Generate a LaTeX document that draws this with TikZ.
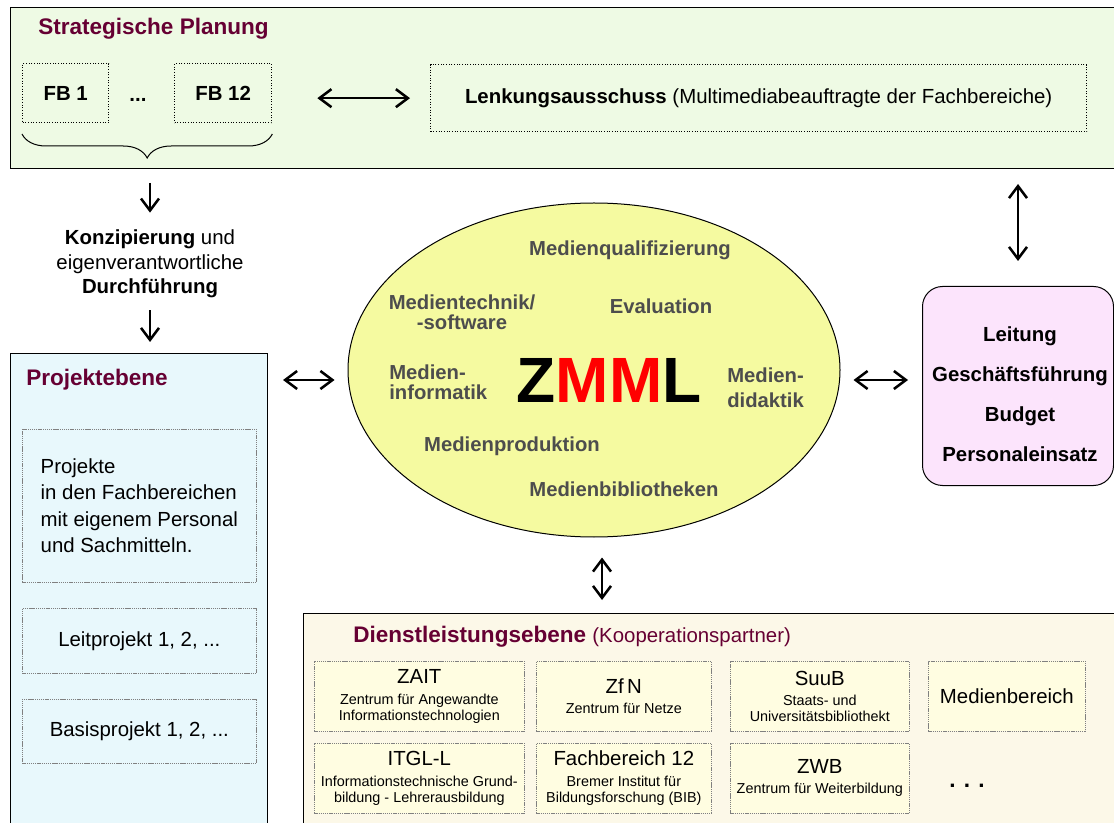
\documentclass[tikz,border=0pt]{standalone}
\usepackage{fontspec}
\setmainfont{Liberation Sans}
\usetikzlibrary{arrows.meta,shapes.geometric,decorations.pathreplacing}

\definecolor{planfill}{RGB}{238,250,228}
\definecolor{projfill}{RGB}{232,248,252}
\definecolor{leitfill}{RGB}{252,228,252}
\definecolor{dienstfill}{RGB}{252,248,232}
\definecolor{partfill}{RGB}{255,253,225}
\definecolor{zmmlfill}{RGB}{245,250,160}
\definecolor{titlecol}{RGB}{102,0,51}
\definecolor{medcol}{RGB}{77,77,77}

\tikzset{
  lvlbox/.style={draw=black, line width=0.75pt, anchor=north west, inner sep=0pt},
  fbbox/.style={draw=black, line width=1pt, dash pattern=on 0.8pt off 1.2pt, anchor=north west, font=\bfseries\fontsize{15.3}{18}\selectfont},
  projbox/.style={draw=gray, line width=0.5pt, dash pattern=on 1pt off 0.6pt, fill=projfill, anchor=north west, minimum width=175.5pt, font=\fontsize{15.3}{19.7}\selectfont},
  partbox/.style={draw=gray, line width=0.5pt, dash pattern=on 1pt off 0.6pt, fill=partfill, anchor=north west, minimum height=52.5pt, align=center, font=\fontsize{10.8}{12}\selectfont},
  leveltitle/.style={anchor=base west, inner sep=0pt, text=titlecol, font=\bfseries\fontsize{16.9}{20}\selectfont},
  medtext/.style={text=medcol, font=\bfseries\fontsize{15.2}{15}\selectfont, align=center, inner sep=0pt},
  arr/.style={line width=1.9pt, -{Straight Barb[length=9pt,width=13.5pt]}},
  dblarr/.style={line width=1.9pt, {Straight Barb[length=9pt,width=13.5pt]}-{Straight Barb[length=9pt,width=13.5pt]}},
}

\begin{document}
\begin{tikzpicture}[x=0.75pt,y=0.75pt,yscale=-1,xscale=1]
\useasboundingbox (0,0) rectangle (1114,823);

%Shape: Rectangle
\node [lvlbox, fill=planfill, minimum width=832.5pt, minimum height=120.75pt] (strat) at (10,7) {};
% Text Node
\node [leveltitle] (strattitle) at (38,35) {Strategische Planung};
% Text Node
\node [fbbox, minimum width=64.5pt, minimum height=44.25pt] (fb1) at (22,63) {FB 1};
% Text Node
\node [anchor=base, inner sep=0pt, font=\bfseries\fontsize{15.3}{18}\selectfont] (fbdots) at (138,102) {...};
% Text Node
\node [fbbox, minimum width=72.75pt, minimum height=44.25pt] (fb12) at (174,63) {FB 12};
% Text Node
\node [fbbox, font=\fontsize{15.3}{18}\selectfont, minimum width=492pt, minimum height=50.25pt] (lenk) at (430,64) {\textbf{Lenkungsausschuss} (Multimediabeauftragte der Fachbereiche)};
%Curve Lines
\draw [line width=0.75pt, decorate, decoration={brace, mirror, amplitude=18pt}] ([yshift=8pt]fb1.south west) -- ([yshift=8pt]fb12.south east);
%Straight Lines
\draw [dblarr, shorten <=33.75pt, shorten >=15pt] (fb12.east |- lenk.west) -- (lenk.west);

% Text Node
\node [align=center, inner sep=0pt, font=\fontsize{15.3}{18.4}\selectfont] (konz) at (150,264) {\textbf{Konzipierung} und\\eigenverantwortliche\\\textbf{Durchführung}};
%Straight Lines
\draw [arr, shorten <=10.5pt, shorten >=12.75pt] (konz.north |- strat.south) -- (konz.north);

%Shape: Rectangle
\node [lvlbox, fill=projfill, minimum width=192.75pt, minimum height=360pt] (proj) at (10,353) {};
%Straight Lines
\draw [arr, shorten <=8.8pt, shorten >=8.25pt] (konz.south) -- (konz.south |- proj.north);
% Text Node
\node [leveltitle] (projtitle) at (26,386) {Projektebene};
% Text Node
\node [projbox, align=left, minimum height=114.75pt] (projfb) at (22,429) {Projekte\\in den Fachbereichen\\mit eigenem Personal\\und Sachmitteln.};
% Text Node
\node [projbox, minimum height=48.75pt] (leitproj) at (22,608) {Leitprojekt 1, 2, ...};
% Text Node
\node [projbox, minimum height=48pt] (basisproj) at (22,699) {Basisprojekt 1, 2, ...};

%Shape: Ellipse
\node [ellipse, draw=black, line width=0.75pt, fill=zmmlfill, minimum width=369pt, minimum height=250.5pt, inner sep=0pt] (zmml) at (594,370) {};
% Text Node
\node [anchor=base, inner sep=0pt, font=\bfseries\fontsize{48}{48}\selectfont] (zmmltext) at (609,403) {Z\textcolor{red}{MM}L};
% Text Node
\node [medtext, anchor=base] (mqual) at (630,256) {Medienqualifizierung};
% Text Node
\node [medtext, anchor=base] (meval) at (661,314) {Evaluation};
% Text Node
\node [medtext] (mtech) at (462,312) {Medientechnik/\\-software};
% Text Node
\node [medtext, align=left, anchor=west] (minf) at (389,382.5) {Medien-\\informatik};
% Text Node
\node [medtext, align=left, anchor=west] (mdid) at (727,388) {Medien-\\[3.75pt]didaktik};
% Text Node
\node [medtext, anchor=base] (mprod) at (512,451) {Medienproduktion};
% Text Node
\node [medtext, anchor=base] (mbib) at (624,496) {Medienbibliotheken};
%Straight Lines
\draw [dblarr, shorten <=11.25pt, shorten >=9.75pt] ([yshift=7.5pt]zmml.west -| proj.east) -- ([yshift=7.5pt]zmml.west);

%Rounded Rect
\node [lvlbox, fill=leitfill, rounded corners=15pt, minimum width=143.25pt, minimum height=149.25pt] (leit) at (922,286) {};
% Text Node
\node [align=center, inner sep=0pt, font=\bfseries\fontsize{15.3}{30}\selectfont] (leittext) at (1020,394) {Leitung\\Geschäftsführung\\Budget\\Personaleinsatz};
%Straight Lines
\draw [dblarr, shorten <=9.75pt, shorten >=10.5pt] ([yshift=7.5pt]zmml.east) -- ([yshift=7.5pt]zmml.east -| leit.west);
%Straight Lines
\draw [dblarr, shorten <=11.25pt, shorten >=18.75pt] (leit.north |- strat.south) -- (leit.north);

%Shape: Rectangle
\node [lvlbox, fill=dienstfill, minimum width=612.75pt, minimum height=187.5pt] (dienst) at (303,613) {};
%Straight Lines
\draw [dblarr, shorten <=15pt, shorten >=9.75pt] ([xshift=6pt]zmml.south) -- ([xshift=6pt]zmml.south |- dienst.north);
% Text Node
\node [leveltitle] (diensttitle) at (353,642) {Dienstleistungsebene {\mdseries\fontsize{15.3}{18}\selectfont (Kooperationspartner)}};
% Text Node
\node [partbox, minimum width=157.5pt] (zait) at (314,661) {{\fontsize{15.3}{18}\selectfont ZAIT}\\[3.75pt]Zentrum für Angewandte\\Informationstechnologien};
% Text Node
\node [partbox, minimum width=131.25pt] (zfn) at (536,661) {{\fontsize{15.3}{18}\selectfont Zf\,N}\\[3pt]Zentrum für Netze};
% Text Node
\node [partbox, minimum width=134.25pt] (suub) at (730,661) {{\fontsize{15.3}{18}\selectfont SuuB}\\[3pt]Staats- und\\Universitätsbibliothekt};
% Text Node
\node [partbox, minimum width=117.75pt] (medb) at (928,661) {{\fontsize{15.3}{18}\selectfont Medienbereich}};
% Text Node
\node [partbox, minimum width=157.5pt] (itgl) at (314,743) {{\fontsize{15.3}{18}\selectfont ITGL-L}\\[3.75pt]Informationstechnische Grund-\\bildung - Lehrerausbildung};
% Text Node
\node [partbox, minimum width=131.25pt] (fbbib) at (536,743) {{\fontsize{15.3}{18}\selectfont Fachbereich 12}\\[3.75pt]Bremer Institut für\\Bildungsforschung (BIB)};
% Text Node
\node [partbox, minimum width=134.25pt] (zwb) at (730,743) {{\fontsize{15.3}{18}\selectfont ZWB}\\[3pt]Zentrum für Weiterbildung};
% Text Node
\node [anchor=base, inner sep=0pt, font=\bfseries\fontsize{16.9}{20}\selectfont] (more) at (967,787) {. . .};

\end{tikzpicture}
\end{document}
